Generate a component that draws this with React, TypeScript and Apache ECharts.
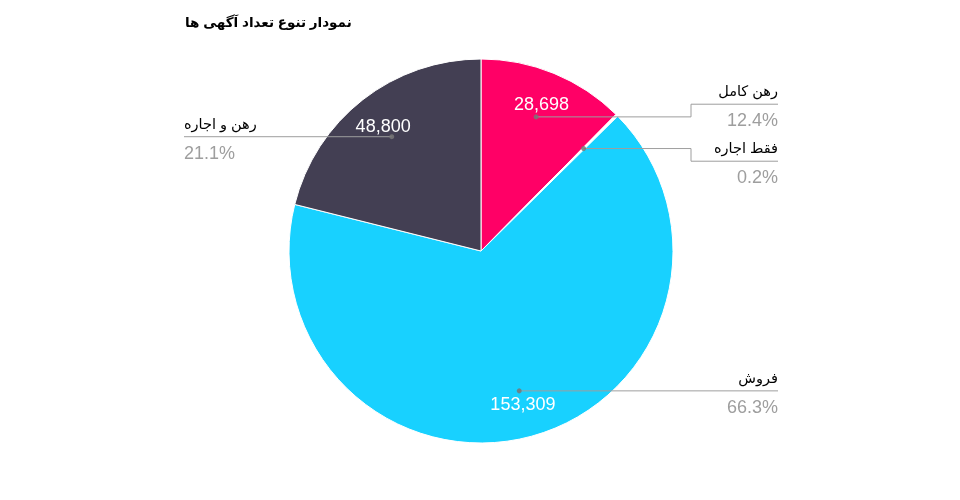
import React, { useEffect, useRef } from "react";
import * as echarts from "echarts";

const TITLE = "نمودار تنوع تعداد آگهی ها";
const categories = ["رهن کامل", "فقط اجاره", "فروش", "رهن و اجاره"];
const values = [28698, 470, 153309, 48800];
const palette = ["#ff0066", "#ffffff", "#18d1ff", "#433f53"];

const FONT = 'Arial, "Liberation Sans", "DejaVu Sans", sans-serif';
const CX = 481;
const CY = 251;
const R = 192;
const LINE_R = 145;
const GAP = 57;

function spread(ys: number[], gap: number): number[] {
  const order = ys.map((y, i) => i).sort((a, b) => ys[a] - ys[b]);
  type Block = { ids: number[]; mean: number };
  const blocks: Block[] = [];
  for (const id of order) {
    blocks.push({ ids: [id], mean: ys[id] });
    while (blocks.length > 1) {
      const b = blocks[blocks.length - 1];
      const a = blocks[blocks.length - 2];
      const aLast = a.mean + ((a.ids.length - 1) / 2) * gap;
      const bFirst = b.mean - ((b.ids.length - 1) / 2) * gap;
      if (bFirst - aLast < gap) {
        const ids = a.ids.concat(b.ids);
        const mean = ids.reduce((s, k) => s + ys[k], 0) / ids.length;
        blocks.splice(blocks.length - 2, 2, { ids, mean });
      } else break;
    }
  }
  const out: number[] = new Array(ys.length);
  for (const b of blocks) {
    b.ids.forEach((id, k) => {
      out[id] = b.mean - ((b.ids.length - 1) / 2) * gap + k * gap;
    });
  }
  return out;
}

export default function App() {
  const ref = useRef<HTMLDivElement>(null);
  useEffect(() => {
    if (!ref.current) return;
    const chart = echarts.init(ref.current, null, { renderer: "svg" });
    const total = values.reduce((s, v) => s + v, 0);
    let cum = 0;
    const mids: number[] = [];
    const starts: [number, number][] = [];
    values.forEach((v) => {
      const m = cum + v / 2;
      mids.push(m);
      const th = (m / total) * Math.PI * 2;
      starts.push([CX + Math.sin(th) * LINE_R, CY - Math.cos(th) * LINE_R]);
      cum += v;
    });
    const isRight = starts.map((p) => p[0] >= CX);
    const labelY: number[] = new Array(values.length);
    [true, false].forEach((side) => {
      const ids = values.map((_, i) => i).filter((i) => isRight[i] === side);
      const ys = spread(ids.map((i) => starts[i][1]), GAP);
      ids.forEach((id, k) => (labelY[id] = ys[k]));
    });

    const data = categories.map((name, i) => ({
      name,
      value: values[i],
      itemStyle: { color: palette[i] },
    }));

    chart.setOption({
      animation: false,
      title: {
        text: TITLE,
        left: 180,
        top: 10,
        textStyle: { fontFamily: FONT, fontSize: 13.5, fontWeight: "bold", color: "#000" },
      },
      polar: { center: [CX, CY], radius: R },
      angleAxis: { type: "value", min: 0, max: total, startAngle: 90, clockwise: true, show: false },
      radiusAxis: { type: "value", min: 0, max: R, show: false },
      series: [
        {
          type: "pie",
          center: [CX, CY],
          radius: [0, R],
          startAngle: 90,
          silent: true,
          label: { show: false },
          labelLine: { show: false },
          itemStyle: { borderColor: "#ffffff", borderWidth: 1 },
          data,
          z: 1,
        },
        {
          type: "pie",
          center: [CX, CY],
          radius: [0, LINE_R],
          startAngle: 90,
          silent: true,
          percentPrecision: 1,
          itemStyle: { color: "rgba(0,0,0,0)", borderWidth: 0 },
          label: {
            show: true,
            position: "outside",
            fontFamily: FONT,
            formatter: (p: any) => `{n|${p.name}}\n{p|${p.percent.toFixed(1)}%}`,
            rich: {
              n: { fontFamily: FONT, fontSize: 14.5, color: "#000", lineHeight: 28 },
              p: { fontFamily: FONT, fontSize: 18, color: "#9e9e9e", lineHeight: 30 },
            },
          },
          labelLine: { show: true, length: 10, length2: 10, smooth: false, lineStyle: { color: "#9e9e9e", width: 1 } },
          labelLayout: (params: any) => {
            const i = params.dataIndex;
            const pts = params.labelLinePoints;
            const s = pts && pts[0] ? pts[0] : starts[i];
            const ly = labelY[i];
            if (isRight[i]) {
              return {
                x: 778,
                y: ly + 2,
                align: "right",
                verticalAlign: "middle",
                labelLinePoints: [[s[0], s[1]], [691, s[1]], [691, ly], [778, ly]],
              };
            }
            return {
              x: 184,
              y: ly + 2,
              align: "left",
              verticalAlign: "middle",
              labelLinePoints: [[s[0], s[1]], [271, s[1]], [271, ly], [184, ly]],
            };
          },
          data: categories.map((name, i) => ({ name, value: values[i] })),
          z: 3,
        },
        {
          type: "pie",
          center: [CX, CY],
          radius: [115, 197],
          startAngle: 90,
          silent: true,
          itemStyle: { color: "rgba(0,0,0,0)", borderWidth: 0 },
          label: {
            show: true,
            position: "inside",
            fontFamily: FONT,
            fontSize: 18,
            color: "#ffffff",
            formatter: (p: any) => Number(p.value).toLocaleString("en-US"),
          },
          labelLine: { show: false },
          data: categories.map((name, i) => ({
            name,
            value: values[i],
            label: { show: values[i] / total > 0.01 },
          })),
          z: 5,
        },
        {
          type: "scatter",
          coordinateSystem: "polar",
          silent: true,
          symbol: "circle",
          symbolSize: 5,
          itemStyle: { color: "#777777", opacity: 0.85 },
          data: mids.map((m) => [LINE_R, m]),
          z: 4,
        },
      ],
    });
    return () => chart.dispose();
  }, []);
  return <div ref={ref} style={{ position: "fixed", left: 0, top: 0, width: 960, height: 500 }} />;
}
